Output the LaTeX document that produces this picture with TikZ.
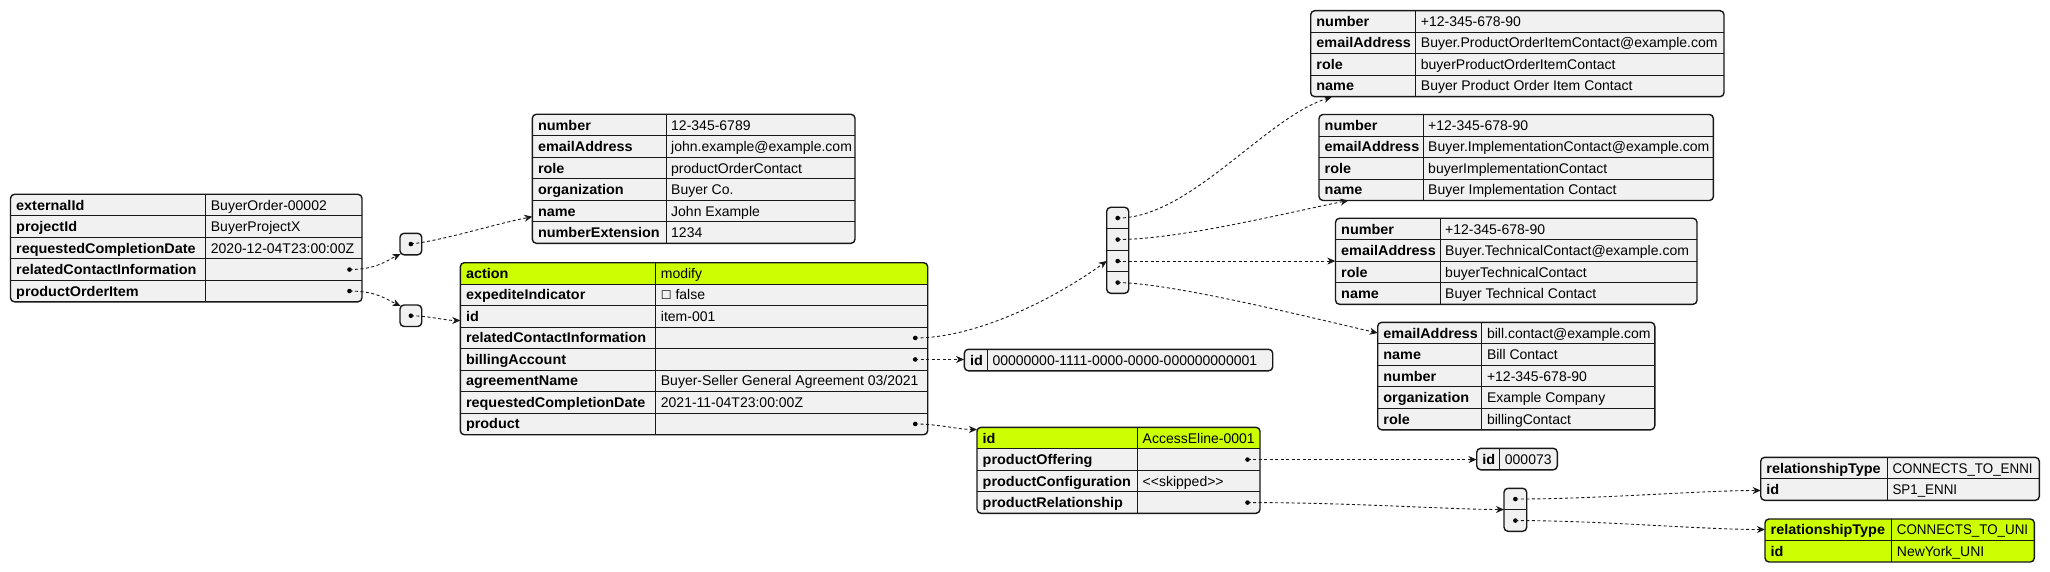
\documentclass[tikz,border=0pt]{standalone}
\usepackage{fontspec}
\usepackage{graphicx}
\setmainfont{Liberation Sans}[BoldFeatures={FakeStretch=1.03}]
\newfontfamily\jsym{DejaVu Sans}
\usetikzlibrary{arrows.meta,fit}
\definecolor{jbg}{HTML}{F1F1F1}
\definecolor{jline}{HTML}{181818}
\definecolor{jhl}{HTML}{CCFF02}
\newcommand\jcaps[1]{\scalebox{0.955}[1]{#1}}
\tikzset{
  jtxt/.style={font=\fontsize{14}{16}\selectfont, inner sep=0pt, anchor=base west, text=black},
  jkey/.style={jtxt, font=\fontsize{14}{16}\selectfont\bfseries},
  jinner/.style={draw=jline, line width=0.9pt},
  jborder/.style={draw=jline, line width=1.4pt, rounded corners=4pt},
  jdot/.style={circle, fill=black, inner sep=0pt, minimum size=4.6pt},
  jlink/.style={draw=jline, line width=0.9pt, dash pattern=on 3pt off 2.5pt,
    -{Stealth[length=8pt,width=7pt,inset=2.5pt]}},
  jframe/.style={inner sep=0pt, draw=none},
}
% table: name, x0, y0, xsep, x1, highlighted rows, key/value list, dotted rows
\newcommand\jtab[8]{%
  \foreach \k/\v [count=\i] in {#7} {\xdef\jn{\i}}%
  \pgfmathsetmacro\jyb{#3+\jn*21.5}%
  \fill[jbg, rounded corners=4pt] (#2,#3) rectangle (#5,\jyb);
  \ifnum#6>0
    \begin{scope}
      \clip[rounded corners=4pt] (#2,#3) rectangle (#5,\jyb);
      \fill[jhl] (#2,#3) rectangle (#5,{#3+#6*21.5});
    \end{scope}
  \fi
  \ifnum\jn>1
    \pgfmathtruncatemacro\jnm{\jn-1}%
    \foreach \r in {1,...,\jnm} \draw[jinner] (#2,{#3+\r*21.5}) -- (#5,{#3+\r*21.5});
  \fi
  \draw[jinner] (#4,#3) -- (#4,\jyb);
  \draw[jborder] (#2,#3) rectangle (#5,\jyb);
  \node[jframe, fit={(#2,#3) (#5,\jyb)}] (#1) {};
  \foreach \k/\v [count=\i] in {#7} {
    \node[jkey] (#1-k\i) at ({#2+5.5},{#3+(\i-0.5)*21.5+5}) {\k};
    \node[jtxt] (#1-v\i) at ({#4+5},{#3+(\i-0.5)*21.5+5}) {\v};
  }
  \foreach \d in {#8} {
    \ifnum\d>0 \node[jdot] (#1-d\d) at ({#5-12.5},{#3+(\d-0.5)*21.5}) {};\fi
  }
}
% array: name, x0, y0, x1, n
\newcommand\jarr[5]{%
  \pgfmathsetmacro\jyb{#3+#5*21.5}%
  \fill[jbg, rounded corners=4pt] (#2,#3) rectangle (#4,\jyb);
  \ifnum#5>1
    \foreach \r in {2,...,#5} \draw[jinner] (#2,{#3+(\r-1)*21.5}) -- (#4,{#3+(\r-1)*21.5});
  \fi
  \draw[jborder] (#2,#3) rectangle (#4,\jyb);
  \node[jframe, fit={(#2,#3) (#4,\jyb)}] (#1) {};
  \foreach \i in {1,...,#5} \node[jdot] (#1-d\i) at ({(#2+#4)/2},{#3+(\i-0.5)*21.5}) {};
}
\begin{document}
\begin{tikzpicture}[x=1pt,y=-1pt]
\useasboundingbox[fill=white] (0,0) rectangle (2050,572);

\jtab{t1}{10.5}{194.3}{205.7}{362}{0}{externalId/BuyerOrder-00002, projectId/BuyerProjectX, requestedCompletionDate/2020-12-04T23:00:00Z, relatedContactInformation/, productOrderItem/}{4,5}

\jtab{t2}{532.3}{114.3}{666}{855}{0}{number/12-345-6789, emailAddress/john.example@example.com, role/productOrderContact, organization/Buyer Co., name/John Example, numberExtension/1234}{0}

\jtab{t3}{460.3}{262.7}{655.7}{927.7}{1}{action/modify, expediteIndicator/{{\jsym\fontsize{12}{14}\selectfont ☐} false}, id/item-001, relatedContactInformation/, billingAccount/, agreementName/{Buyer-Seller General Agreement 03/2021}, requestedCompletionDate/2021-11-04T23:00:00Z, product/}{4,5,8}

\jtab{idb}{964.3}{349.3}{987.3}{1272.7}{0}{id/00000000-1111-0000-0000-000000000001}{0}

\jtab{t5}{977}{427.3}{1137.5}{1260}{1}{id/AccessEline-0001, productOffering/, productConfiguration/{<\kern0pt<skipped>\kern0pt>}, productRelationship/}{2,4}

\jtab{id73}{1476.7}{448.3}{1499.7}{1557.3}{0}{id/000073}{0}

\jtab{ta}{1310.7}{10.7}{1415.7}{1724}{0}{number/+12-345-678-90, emailAddress/Buyer.ProductOrderItemContact@example.com, role/buyerProductOrderItemContact, name/Buyer Product Order Item Contact}{0}

\jtab{tb}{1319}{114.5}{1423}{1713.4}{0}{number/+12-345-678-90, emailAddress/Buyer.ImplementationContact@example.com, role/buyerImplementationContact, name/Buyer Implementation Contact}{0}

\jtab{tc}{1335.5}{218.3}{1440}{1697}{0}{number/+12-345-678-90, emailAddress/Buyer.TechnicalContact@example.com, role/buyerTechnicalContact, name/Buyer Technical Contact}{0}

\jtab{td}{1377.7}{322.3}{1481.8}{1654.8}{0}{emailAddress/bill.contact@example.com, name/Bill Contact, number/+12-345-678-90, organization/Example Company, role/billingContact}{0}

\jtab{te}{1760.7}{457.3}{1887.3}{2039.3}{0}{relationshipType/{\jcaps{CONNECTS\_TO\_ENNI}}, id/{\jcaps{SP1\_ENNI}}}{0}

\jtab{tu}{1765}{519}{1891.7}{2034.3}{2}{relationshipType/{\jcaps{CONNECTS\_TO\_UNI}}, id/NewYork\_UNI}{0}

\jarr{b1}{400}{233.3}{421.7}{1}
\jarr{b2}{400}{305}{421.7}{1}
\jarr{b4}{1106.7}{207.3}{1128.7}{4}
\jarr{b2e}{1504}{488.3}{1526.7}{2}

% connectors
\coordinate (e1) at (400.5,254);
\draw[jlink] (t1-d4.center) .. controls (376,269.5) and (386,261) .. (e1);
\coordinate (e2) at (400.5,306);
\draw[jlink] (t1-d5.center) .. controls (376,291) and (386,299) .. (e2);
\coordinate (e3) at (532.3,216.7);
\draw[jlink] (b1-d1.center) .. controls (445,240) and (495,224) .. (e3);
\coordinate (e4) at (460.3,320.5);
\draw[jlink] (b2-d1.center) .. controls (430,316) and (445,320.5) .. (e4);
\coordinate (e5) at (1106.7,261);
\draw[jlink] (t3-d4.center) .. controls (980,338) and (1060,295) .. (e5);
\draw[jlink] (t3-d5.center) -- (idb.west |- t3-d5.center);
\coordinate (e7) at (977,429.5);
\draw[jlink] (t3-d8.center) .. controls (940,424.2) and (958,429.5) .. (e7);
\coordinate (e8) at (1331.7,97);
\draw[jlink] (b4-d1.center) .. controls (1190,218) and (1265,118) .. (e8);
\coordinate (e9) at (1348.3,200.5);
\draw[jlink] (b4-d2.center) .. controls (1180,239.5) and (1290,212) .. (e9);
\draw[jlink] (b4-d3.center) -- (tc.west |- b4-d3.center);
\coordinate (e11) at (1377.7,333);
\draw[jlink] (b4-d4.center) .. controls (1170,283) and (1300,315) .. (e11);
\draw[jlink] (t5-d2.center) -- (id73.west |- t5-d2.center);
\coordinate (e13) at (1504,509.5);
\draw[jlink] (t5-d4.center) .. controls (1350,502.5) and (1450,509.5) .. (e13);
\coordinate (e14) at (1760.7,490.5);
\draw[jlink] (b2e-d1.center) .. controls (1600,499) and (1700,490.5) .. (e14);
\coordinate (e15) at (1765,529.5);
\draw[jlink] (b2e-d2.center) .. controls (1600,520.5) and (1700,529.5) .. (e15);
\end{tikzpicture}
\end{document}
